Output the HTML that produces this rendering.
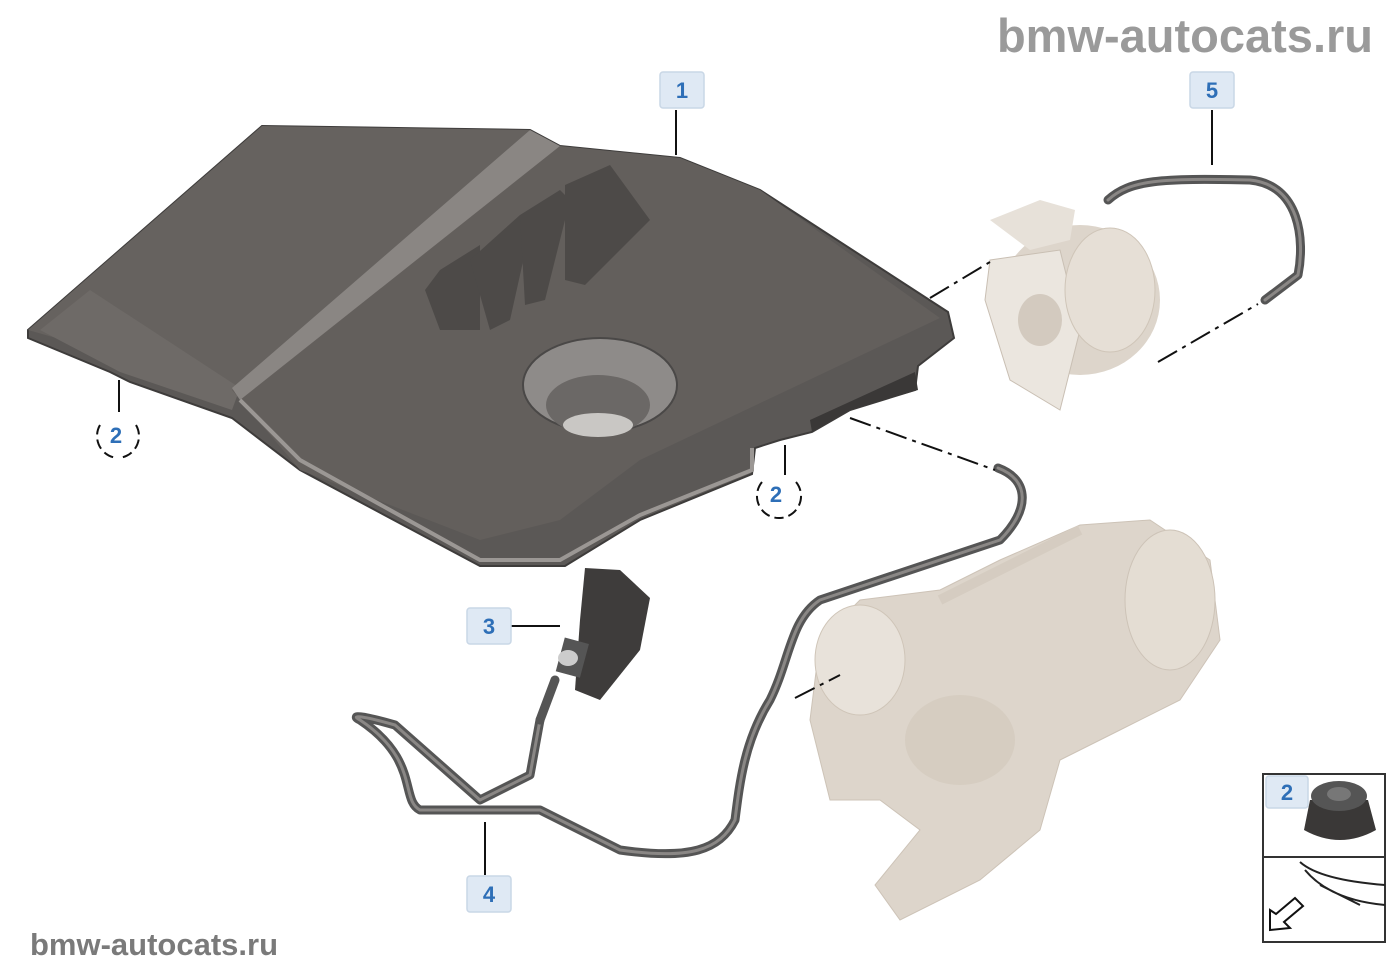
<!DOCTYPE html>
<html><head><meta charset="utf-8"><style>
html,body{margin:0;padding:0;background:#fff;}
svg{display:block;}
.lb{fill:#dfe9f4;stroke:#c9d7e6;stroke-width:1.5}
.lt{font-family:"Liberation Sans",sans-serif;font-weight:bold;font-size:22px;fill:#2e6fb7;text-anchor:middle}
.ld{stroke:#111;stroke-width:2;fill:none}
.dd{stroke:#111;stroke-width:2;fill:none;stroke-dasharray:22,6,4,6}
.hose{fill:none;stroke:#555;stroke-width:9;stroke-linecap:round;stroke-linejoin:round}
.hosei{fill:none;stroke:#8a8785;stroke-width:3;stroke-linecap:round;stroke-linejoin:round}
</style></head><body>
<svg width="1400" height="980" viewBox="0 0 1400 980">
<text x="1373" y="52" font-family="Liberation Sans,sans-serif" font-weight="bold" font-size="47" fill="#9a9a9a" text-anchor="end">bmw-autocats.ru</text>
<text x="30" y="955" font-family="Liberation Sans,sans-serif" font-weight="bold" font-size="31" fill="#7a7a7a">bmw-autocats.ru</text>

<!-- engine cover -->
<path d="M28,330 L262,126 L530,130 L560,146 L680,158 L760,190 L948,312 L954,338 L918,366 L915,390 L850,410 L812,432 L780,440 L755,448 L752,474 L640,520 L565,566 L480,566 L300,470 L232,418 L130,382 L110,372 L28,338 Z" fill="#5b5856" stroke="#3e3c3b" stroke-width="2"/>
<path d="M28,330 L262,126 L530,130 L232,388 Z" fill="#66625f"/>
<path d="M40,330 L120,372 L232,410 L240,388 L90,290 Z" fill="#6e6a67"/>
<path d="M232,390 L560,146 L680,158 L760,190 L940,318 L640,460 L560,520 L480,540 L300,470 Z" fill="#635f5c"/>
<path d="M232,388 L530,130 L560,146 L240,400 Z" fill="#8a8683"/>
<path d="M240,400 L300,460 L480,560 L560,560 L640,515 L752,470 L752,448" fill="none" stroke="#9b9794" stroke-width="4"/>
<path d="M425,290 L440,270 L480,245 L480,330 L440,330 Z" fill="#4d4a48"/>
<path d="M470,260 L520,215 L530,230 L510,320 L490,330 Z" fill="#4d4a48"/>
<path d="M520,215 L560,190 L570,200 L545,300 L525,305 Z" fill="#4d4a48"/>
<path d="M565,185 L610,165 L650,220 L585,285 L565,280 Z" fill="#4d4a48"/>
<path d="M810,420 L915,372 L918,390 L850,410 L812,432 Z" fill="#3a3837"/>
<ellipse cx="600" cy="385" rx="77" ry="47" fill="#8e8b89" stroke="#4a4847" stroke-width="2"/>
<ellipse cx="598" cy="405" rx="52" ry="30" fill="#6b6866"/>
<ellipse cx="598" cy="425" rx="35" ry="12" fill="#c9c7c4"/>

<!-- pump -->
<ellipse cx="1080" cy="300" rx="80" ry="75" fill="#ddd5cb"/>
<path d="M990,220 L1040,200 L1075,210 L1070,240 L1030,250 Z" fill="#e7e1d9"/>
<path d="M990,260 L1060,250 L1080,330 L1060,410 L1010,380 L985,300 Z" fill="#ebe6df" stroke="#c9bfb3"/>
<ellipse cx="1040" cy="320" rx="22" ry="26" fill="#d3cabf"/>
<ellipse cx="1110" cy="290" rx="45" ry="62" fill="#e6dfd6" stroke="#cfc5b8"/>

<!-- turbo -->
<path d="M820,640 L860,600 L940,590 L1000,560 L1080,525 L1150,520 L1210,560 L1220,640 L1180,700 L1120,730 L1060,760 L1040,830 L980,880 L900,920 L875,885 L920,830 L880,800 L830,800 L810,720 Z" fill="#ddd5cb" stroke="#cdc3b7"/>
<ellipse cx="860" cy="660" rx="45" ry="55" fill="#e8e2da" stroke="#cfc5b8"/>
<ellipse cx="1170" cy="600" rx="45" ry="70" fill="#e4ddd3" stroke="#cdc3b7"/>
<ellipse cx="960" cy="740" rx="55" ry="45" fill="#d6cdc1"/>
<path d="M940,600 L1080,530" stroke="#d5ccc1" stroke-width="10"/>

<!-- hoses -->
<path class="hose" d="M1108,200 C1130,180 1160,178 1250,180 C1300,185 1305,240 1298,275 L1265,300"/>
<path class="hosei" d="M1108,200 C1130,180 1160,178 1250,180 C1300,185 1305,240 1298,275 L1265,300"/>
<path class="hose" d="M998,468 C1030,480 1030,510 1000,540 L820,600 C790,620 790,660 770,700 C745,740 740,780 735,820 C720,850 690,860 620,850 L540,810 L420,810 C400,800 420,760 360,720 C350,715 360,715 395,725 L480,800 L530,775 L540,720"/>
<path class="hosei" d="M998,468 C1030,480 1030,510 1000,540 L820,600 C790,620 790,660 770,700 C745,740 740,780 735,820 C720,850 690,860 620,850 L540,810 L420,810 C400,800 420,760 360,720 C350,715 360,715 395,725 L480,800 L530,775 L540,720"/>
<path class="hose" d="M540,720 L555,680"/>

<!-- part 3 sensor -->
<path d="M585,568 L620,570 L650,598 L640,650 L600,700 L575,690 L580,620 Z" fill="#3e3c3b"/>
<rect x="560" y="640" width="25" height="35" fill="#555" transform="rotate(15 572 657)"/>
<ellipse cx="568" cy="658" rx="10" ry="8" fill="#ccc"/>

<!-- dashed leaders -->
<path class="dd" d="M930,298 L990,262"/>
<path class="dd" d="M1158,362 L1258,304"/>
<path class="dd" d="M850,418 L995,470"/>
<path class="dd" d="M795,698 L840,675"/>

<!-- label leaders -->
<path class="ld" d="M676,110 L676,155"/>
<path class="ld" d="M1212,110 L1212,165"/>
<path class="ld" d="M119,380 L119,412"/>
<path class="ld" d="M785,445 L785,475"/>
<path class="ld" d="M510,626 L560,626"/>
<path class="ld" d="M485,822 L485,875"/>

<!-- labels -->
<rect class="lb" x="660" y="72" width="44" height="36" rx="3"/><text class="lt" x="682" y="98">1</text>
<rect class="lb" x="1190" y="72" width="44" height="36" rx="3"/><text class="lt" x="1212" y="98">5</text>
<rect class="lb" x="467" y="608" width="44" height="36" rx="3"/><text class="lt" x="489" y="634">3</text>
<rect class="lb" x="467" y="876" width="44" height="36" rx="3"/><text class="lt" x="489" y="902">4</text>
<text class="lt" x="116" y="443">2</text>
<path d="M100,425 A22,22 0 0 0 118,458 M136,425 A22,22 0 0 1 118,458" class="ld" stroke-dasharray="10,5"/>
<text class="lt" x="776" y="502">2</text>
<path d="M762,482 A22,22 0 0 0 780,518 M796,482 A22,22 0 0 1 780,518" class="ld" stroke-dasharray="10,5"/>

<!-- inset -->
<rect x="1263" y="774" width="122" height="168" fill="#fff" stroke="#333" stroke-width="2"/>
<line x1="1263" y1="857" x2="1385" y2="857" stroke="#333" stroke-width="2"/>
<rect class="lb" x="1266" y="776" width="42" height="32" rx="3"/><text class="lt" x="1287" y="800">2</text>
<path d="M1310,800 L1304,830 Q1340,850 1376,830 L1368,800 Z" fill="#3a3837"/>
<ellipse cx="1339" cy="796" rx="28" ry="15" fill="#555"/>
<ellipse cx="1339" cy="794" rx="12" ry="7" fill="#777"/>
<path d="M1300,862 Q1320,880 1385,885 M1305,870 Q1330,900 1385,905 M1320,885 L1360,905" stroke="#222" stroke-width="2" fill="none"/>
<path d="M1270,930 L1270,910 L1276,914 L1295,898 L1303,906 L1284,922 L1290,928 Z" fill="#fff" stroke="#111" stroke-width="2"/>
</svg>
</body></html>
